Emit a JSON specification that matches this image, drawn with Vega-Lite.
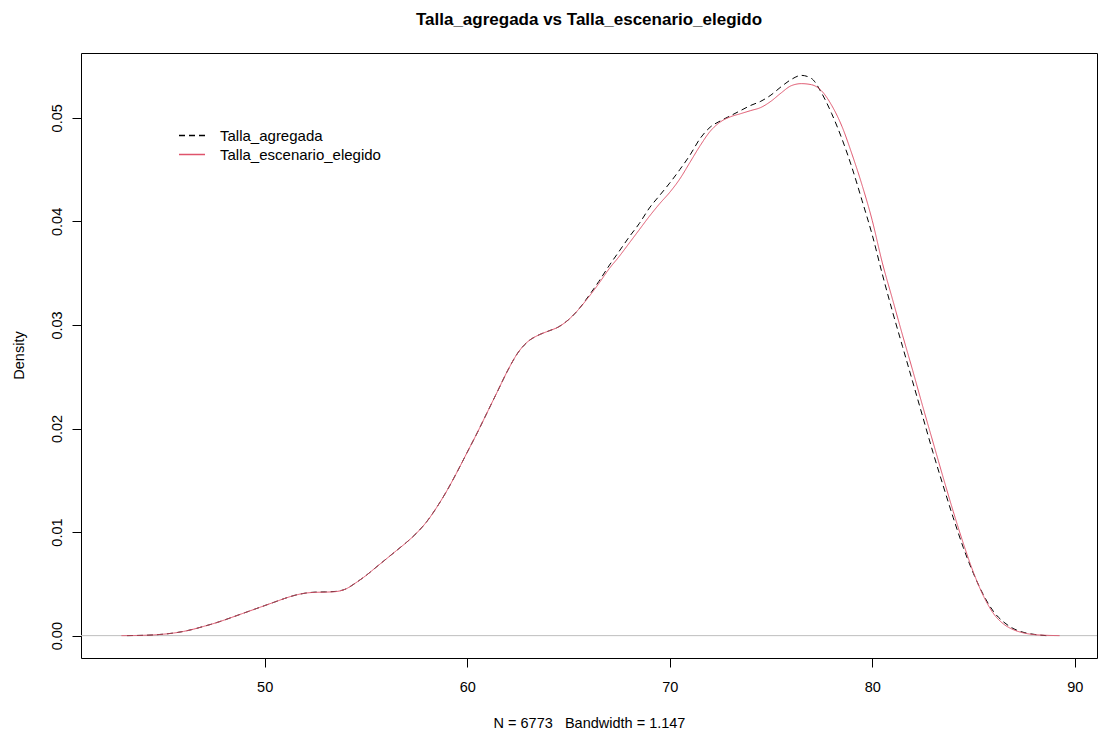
{
  "$schema": "https://vega.github.io/schema/vega-lite/v6.json",
  "autosize": {"type": "none"},
  "width": 1016,
  "height": 605,
  "padding": {"left": 81, "top": 53, "right": 2, "bottom": 78},
  "background": "white",
  "title": {
    "text": "Talla_agregada vs Talla_escenario_elegido",
    "anchor": "middle",
    "frame": "group",
    "font": "Liberation Sans",
    "fontSize": 17,
    "fontWeight": "bold",
    "color": "#000000",
    "baseline": "alphabetic",
    "offset": 11
  },
  "config": {
    "view": {"stroke": "#000000", "strokeWidth": 1},
    "font": "Liberation Sans",
    "axis": {"grid": false, "domain": false, "tickColor": "#000000", "tickSize": 9, "labelColor": "#000000", "labelFont": "Liberation Sans", "labelFontSize": 14.5, "titleFont": "Liberation Sans", "titleFontSize": 14.5, "titleFontWeight": "normal", "titleColor": "#000000"}
  },
  "datasets": {
    "dens": [
      {"x": 43.2, "d": 0, "s": "Talla_agregada"},
      {"x": 43.5, "d": 0.00001, "s": "Talla_agregada"},
      {"x": 44, "d": 0.00003, "s": "Talla_agregada"},
      {"x": 44.5, "d": 0.00007, "s": "Talla_agregada"},
      {"x": 45, "d": 0.00014, "s": "Talla_agregada"},
      {"x": 45.5, "d": 0.00025, "s": "Talla_agregada"},
      {"x": 46, "d": 0.00041, "s": "Talla_agregada"},
      {"x": 46.5, "d": 0.00063, "s": "Talla_agregada"},
      {"x": 47, "d": 0.0009, "s": "Talla_agregada"},
      {"x": 47.5, "d": 0.00118, "s": "Talla_agregada"},
      {"x": 48, "d": 0.0015, "s": "Talla_agregada"},
      {"x": 48.5, "d": 0.00185, "s": "Talla_agregada"},
      {"x": 49, "d": 0.0022, "s": "Talla_agregada"},
      {"x": 49.5, "d": 0.00255, "s": "Talla_agregada"},
      {"x": 50, "d": 0.0029, "s": "Talla_agregada"},
      {"x": 50.5, "d": 0.00325, "s": "Talla_agregada"},
      {"x": 51, "d": 0.0036, "s": "Talla_agregada"},
      {"x": 51.5, "d": 0.0039, "s": "Talla_agregada"},
      {"x": 52, "d": 0.0041, "s": "Talla_agregada"},
      {"x": 52.5, "d": 0.0042, "s": "Talla_agregada"},
      {"x": 53, "d": 0.00422, "s": "Talla_agregada"},
      {"x": 53.5, "d": 0.00427, "s": "Talla_agregada"},
      {"x": 54, "d": 0.0045, "s": "Talla_agregada"},
      {"x": 54.5, "d": 0.0051, "s": "Talla_agregada"},
      {"x": 55, "d": 0.0058, "s": "Talla_agregada"},
      {"x": 55.5, "d": 0.0066, "s": "Talla_agregada"},
      {"x": 56, "d": 0.0074, "s": "Talla_agregada"},
      {"x": 56.5, "d": 0.0082, "s": "Talla_agregada"},
      {"x": 57, "d": 0.009, "s": "Talla_agregada"},
      {"x": 57.5, "d": 0.0099, "s": "Talla_agregada"},
      {"x": 58, "d": 0.011, "s": "Talla_agregada"},
      {"x": 58.5, "d": 0.0124, "s": "Talla_agregada"},
      {"x": 59, "d": 0.014, "s": "Talla_agregada"},
      {"x": 59.5, "d": 0.0158, "s": "Talla_agregada"},
      {"x": 60, "d": 0.0177, "s": "Talla_agregada"},
      {"x": 60.5, "d": 0.0196, "s": "Talla_agregada"},
      {"x": 61, "d": 0.0216, "s": "Talla_agregada"},
      {"x": 61.5, "d": 0.0236, "s": "Talla_agregada"},
      {"x": 62, "d": 0.0256, "s": "Talla_agregada"},
      {"x": 62.5, "d": 0.0273, "s": "Talla_agregada"},
      {"x": 63, "d": 0.0284, "s": "Talla_agregada"},
      {"x": 63.5, "d": 0.029, "s": "Talla_agregada"},
      {"x": 64, "d": 0.0294, "s": "Talla_agregada"},
      {"x": 64.5, "d": 0.0298, "s": "Talla_agregada"},
      {"x": 65, "d": 0.0305, "s": "Talla_agregada"},
      {"x": 65.5, "d": 0.0315, "s": "Talla_agregada"},
      {"x": 66, "d": 0.0328, "s": "Talla_agregada"},
      {"x": 66.5, "d": 0.0342, "s": "Talla_agregada"},
      {"x": 67, "d": 0.0357, "s": "Talla_agregada"},
      {"x": 67.5, "d": 0.0371, "s": "Talla_agregada"},
      {"x": 68, "d": 0.0385, "s": "Talla_agregada"},
      {"x": 68.5, "d": 0.0398, "s": "Talla_agregada"},
      {"x": 69, "d": 0.0413, "s": "Talla_agregada"},
      {"x": 69.5, "d": 0.0425, "s": "Talla_agregada"},
      {"x": 70, "d": 0.0437, "s": "Talla_agregada"},
      {"x": 70.5, "d": 0.045, "s": "Talla_agregada"},
      {"x": 71, "d": 0.0464, "s": "Talla_agregada"},
      {"x": 71.5, "d": 0.048, "s": "Talla_agregada"},
      {"x": 72, "d": 0.0491, "s": "Talla_agregada"},
      {"x": 72.5, "d": 0.0497, "s": "Talla_agregada"},
      {"x": 73, "d": 0.0502, "s": "Talla_agregada"},
      {"x": 73.5, "d": 0.0507, "s": "Talla_agregada"},
      {"x": 74, "d": 0.0512, "s": "Talla_agregada"},
      {"x": 74.5, "d": 0.0516, "s": "Talla_agregada"},
      {"x": 75, "d": 0.0522, "s": "Talla_agregada"},
      {"x": 75.5, "d": 0.053, "s": "Talla_agregada"},
      {"x": 76, "d": 0.0537, "s": "Talla_agregada"},
      {"x": 76.5, "d": 0.0541, "s": "Talla_agregada"},
      {"x": 77, "d": 0.0538, "s": "Talla_agregada"},
      {"x": 77.5, "d": 0.0524, "s": "Talla_agregada"},
      {"x": 78, "d": 0.0504, "s": "Talla_agregada"},
      {"x": 78.5, "d": 0.048, "s": "Talla_agregada"},
      {"x": 79, "d": 0.0452, "s": "Talla_agregada"},
      {"x": 79.5, "d": 0.042, "s": "Talla_agregada"},
      {"x": 80, "d": 0.0387, "s": "Talla_agregada"},
      {"x": 80.5, "d": 0.0349, "s": "Talla_agregada"},
      {"x": 81, "d": 0.0313, "s": "Talla_agregada"},
      {"x": 81.5, "d": 0.0279, "s": "Talla_agregada"},
      {"x": 82, "d": 0.0245, "s": "Talla_agregada"},
      {"x": 82.5, "d": 0.0211, "s": "Talla_agregada"},
      {"x": 83, "d": 0.0177, "s": "Talla_agregada"},
      {"x": 83.5, "d": 0.0145, "s": "Talla_agregada"},
      {"x": 84, "d": 0.0114, "s": "Talla_agregada"},
      {"x": 84.5, "d": 0.0085, "s": "Talla_agregada"},
      {"x": 85, "d": 0.006, "s": "Talla_agregada"},
      {"x": 85.5, "d": 0.0039, "s": "Talla_agregada"},
      {"x": 86, "d": 0.0023, "s": "Talla_agregada"},
      {"x": 86.5, "d": 0.0013, "s": "Talla_agregada"},
      {"x": 87, "d": 0.00065, "s": "Talla_agregada"},
      {"x": 87.5, "d": 0.0003, "s": "Talla_agregada"},
      {"x": 88, "d": 0.00012, "s": "Talla_agregada"},
      {"x": 88.6, "d": 0, "s": "Talla_agregada"},
      {"x": 42.93, "d": 0, "s": "Talla_escenario_elegido"},
      {"x": 43.5, "d": 0.00001, "s": "Talla_escenario_elegido"},
      {"x": 44, "d": 0.00003, "s": "Talla_escenario_elegido"},
      {"x": 44.5, "d": 0.00007, "s": "Talla_escenario_elegido"},
      {"x": 45, "d": 0.00014, "s": "Talla_escenario_elegido"},
      {"x": 45.5, "d": 0.00025, "s": "Talla_escenario_elegido"},
      {"x": 46, "d": 0.00041, "s": "Talla_escenario_elegido"},
      {"x": 46.5, "d": 0.00063, "s": "Talla_escenario_elegido"},
      {"x": 47, "d": 0.0009, "s": "Talla_escenario_elegido"},
      {"x": 47.5, "d": 0.00118, "s": "Talla_escenario_elegido"},
      {"x": 48, "d": 0.0015, "s": "Talla_escenario_elegido"},
      {"x": 48.5, "d": 0.00185, "s": "Talla_escenario_elegido"},
      {"x": 49, "d": 0.0022, "s": "Talla_escenario_elegido"},
      {"x": 49.5, "d": 0.00255, "s": "Talla_escenario_elegido"},
      {"x": 50, "d": 0.0029, "s": "Talla_escenario_elegido"},
      {"x": 50.5, "d": 0.00325, "s": "Talla_escenario_elegido"},
      {"x": 51, "d": 0.0036, "s": "Talla_escenario_elegido"},
      {"x": 51.5, "d": 0.0039, "s": "Talla_escenario_elegido"},
      {"x": 52, "d": 0.0041, "s": "Talla_escenario_elegido"},
      {"x": 52.5, "d": 0.00418, "s": "Talla_escenario_elegido"},
      {"x": 53, "d": 0.0042, "s": "Talla_escenario_elegido"},
      {"x": 53.5, "d": 0.00425, "s": "Talla_escenario_elegido"},
      {"x": 54, "d": 0.0045, "s": "Talla_escenario_elegido"},
      {"x": 54.5, "d": 0.0051, "s": "Talla_escenario_elegido"},
      {"x": 55, "d": 0.0058, "s": "Talla_escenario_elegido"},
      {"x": 55.5, "d": 0.0066, "s": "Talla_escenario_elegido"},
      {"x": 56, "d": 0.0074, "s": "Talla_escenario_elegido"},
      {"x": 56.5, "d": 0.0082, "s": "Talla_escenario_elegido"},
      {"x": 57, "d": 0.009, "s": "Talla_escenario_elegido"},
      {"x": 57.5, "d": 0.0099, "s": "Talla_escenario_elegido"},
      {"x": 58, "d": 0.011, "s": "Talla_escenario_elegido"},
      {"x": 58.5, "d": 0.0124, "s": "Talla_escenario_elegido"},
      {"x": 59, "d": 0.014, "s": "Talla_escenario_elegido"},
      {"x": 59.5, "d": 0.0158, "s": "Talla_escenario_elegido"},
      {"x": 60, "d": 0.0177, "s": "Talla_escenario_elegido"},
      {"x": 60.5, "d": 0.0196, "s": "Talla_escenario_elegido"},
      {"x": 61, "d": 0.0216, "s": "Talla_escenario_elegido"},
      {"x": 61.5, "d": 0.0236, "s": "Talla_escenario_elegido"},
      {"x": 62, "d": 0.0256, "s": "Talla_escenario_elegido"},
      {"x": 62.5, "d": 0.0273, "s": "Talla_escenario_elegido"},
      {"x": 63, "d": 0.0284, "s": "Talla_escenario_elegido"},
      {"x": 63.5, "d": 0.029, "s": "Talla_escenario_elegido"},
      {"x": 64, "d": 0.0294, "s": "Talla_escenario_elegido"},
      {"x": 64.5, "d": 0.0298, "s": "Talla_escenario_elegido"},
      {"x": 65, "d": 0.0305, "s": "Talla_escenario_elegido"},
      {"x": 65.5, "d": 0.0315, "s": "Talla_escenario_elegido"},
      {"x": 66, "d": 0.0327, "s": "Talla_escenario_elegido"},
      {"x": 66.5, "d": 0.034, "s": "Talla_escenario_elegido"},
      {"x": 67, "d": 0.0354, "s": "Talla_escenario_elegido"},
      {"x": 67.5, "d": 0.0366, "s": "Talla_escenario_elegido"},
      {"x": 68, "d": 0.0379, "s": "Talla_escenario_elegido"},
      {"x": 68.5, "d": 0.0392, "s": "Talla_escenario_elegido"},
      {"x": 69, "d": 0.0405, "s": "Talla_escenario_elegido"},
      {"x": 69.5, "d": 0.0417, "s": "Talla_escenario_elegido"},
      {"x": 70, "d": 0.0428, "s": "Talla_escenario_elegido"},
      {"x": 70.5, "d": 0.0441, "s": "Talla_escenario_elegido"},
      {"x": 71, "d": 0.0457, "s": "Talla_escenario_elegido"},
      {"x": 71.5, "d": 0.0473, "s": "Talla_escenario_elegido"},
      {"x": 72, "d": 0.0487, "s": "Talla_escenario_elegido"},
      {"x": 72.5, "d": 0.0496, "s": "Talla_escenario_elegido"},
      {"x": 73, "d": 0.0501, "s": "Talla_escenario_elegido"},
      {"x": 73.5, "d": 0.0504, "s": "Talla_escenario_elegido"},
      {"x": 74, "d": 0.0507, "s": "Talla_escenario_elegido"},
      {"x": 74.5, "d": 0.051, "s": "Talla_escenario_elegido"},
      {"x": 75, "d": 0.0516, "s": "Talla_escenario_elegido"},
      {"x": 75.5, "d": 0.0524, "s": "Talla_escenario_elegido"},
      {"x": 76, "d": 0.0531, "s": "Talla_escenario_elegido"},
      {"x": 76.5, "d": 0.0533, "s": "Talla_escenario_elegido"},
      {"x": 77, "d": 0.0532, "s": "Talla_escenario_elegido"},
      {"x": 77.5, "d": 0.0526, "s": "Talla_escenario_elegido"},
      {"x": 78, "d": 0.0512, "s": "Talla_escenario_elegido"},
      {"x": 78.5, "d": 0.0492, "s": "Talla_escenario_elegido"},
      {"x": 79, "d": 0.0465, "s": "Talla_escenario_elegido"},
      {"x": 79.5, "d": 0.0435, "s": "Talla_escenario_elegido"},
      {"x": 80, "d": 0.0401, "s": "Talla_escenario_elegido"},
      {"x": 80.5, "d": 0.036, "s": "Talla_escenario_elegido"},
      {"x": 81, "d": 0.0325, "s": "Talla_escenario_elegido"},
      {"x": 81.5, "d": 0.029, "s": "Talla_escenario_elegido"},
      {"x": 82, "d": 0.0256, "s": "Talla_escenario_elegido"},
      {"x": 82.5, "d": 0.0221, "s": "Talla_escenario_elegido"},
      {"x": 83, "d": 0.0187, "s": "Talla_escenario_elegido"},
      {"x": 83.5, "d": 0.0153, "s": "Talla_escenario_elegido"},
      {"x": 84, "d": 0.012, "s": "Talla_escenario_elegido"},
      {"x": 84.5, "d": 0.0089, "s": "Talla_escenario_elegido"},
      {"x": 85, "d": 0.0061, "s": "Talla_escenario_elegido"},
      {"x": 85.5, "d": 0.0038, "s": "Talla_escenario_elegido"},
      {"x": 86, "d": 0.0021, "s": "Talla_escenario_elegido"},
      {"x": 86.5, "d": 0.0011, "s": "Talla_escenario_elegido"},
      {"x": 87, "d": 0.00055, "s": "Talla_escenario_elegido"},
      {"x": 87.5, "d": 0.00025, "s": "Talla_escenario_elegido"},
      {"x": 88, "d": 0.0001, "s": "Talla_escenario_elegido"},
      {"x": 88.5, "d": 0.00004, "s": "Talla_escenario_elegido"},
      {"x": 89.25, "d": 0, "s": "Talla_escenario_elegido"}
    ]
  },
  "layer": [
    {
      "data": {"values": [{"zero": 0}]},
      "mark": {"type": "rule", "color": "#BEBEBE", "strokeWidth": 1},
      "encoding": {
        "y": {
          "field": "zero", "type": "quantitative",
          "scale": {"domain": [-0.00216, 0.05626], "nice": false, "zero": false},
          "axis": {"values": [0, 0.01, 0.02, 0.03, 0.04, 0.05], "format": ".2f", "labelAngle": 270, "labelAlign": "center", "labelBaseline": "alphabetic", "labelPadding": 11, "title": "Density", "titleAngle": 270, "titleAlign": "center", "titleBaseline": "alphabetic", "titleX": -58, "titleY": 302}
        }
      }
    },
    {
      "data": {"name": "dens"},
      "mark": {"type": "line", "strokeWidth": 1, "interpolate": "monotone"},
      "encoding": {
        "x": {
          "field": "x", "type": "quantitative",
          "scale": {"domain": [40.93, 91.1], "nice": false, "zero": false},
          "axis": {"values": [50, 60, 70, 80, 90], "labelBaseline": "alphabetic", "labelPadding": 24, "title": "N = 6773\u00a0\u00a0\u00a0Bandwidth = 1.147", "titleBaseline": "alphabetic", "titleX": 508, "titleY": 69, "titleAnchor": "middle", "titleAlign": "center"}
        },
        "y": {
          "field": "d", "type": "quantitative",
          "scale": {"domain": [-0.00216, 0.05626], "nice": false, "zero": false},
          "axis": {"values": [0, 0.01, 0.02, 0.03, 0.04, 0.05], "format": ".2f", "labelAngle": 270, "labelAlign": "center", "labelBaseline": "alphabetic", "labelPadding": 11, "title": "Density", "titleAngle": 270, "titleAlign": "center", "titleBaseline": "alphabetic", "titleX": -58, "titleY": 302}
        },
        "color": {
          "field": "s", "type": "nominal",
          "scale": {"domain": ["Talla_agregada", "Talla_escenario_elegido"], "range": ["#000000", "#DF536B"]},
          "legend": {"orient": "none", "legendX": 103.5, "legendY": 75, "title": null, "symbolType": "M-2,0H2", "symbolSize": 169, "symbolStrokeWidth": 1.3, "labelOffset": 20.5, "labelFontSize": 15, "labelFont": "Liberation Sans", "labelColor": "#000000", "labelLimit": 0, "rowPadding": 3, "padding": 0}
        },
        "strokeDash": {
          "field": "s", "type": "nominal",
          "scale": {"domain": ["Talla_agregada", "Talla_escenario_elegido"], "range": [[6, 4], [1, 0]]},
          "legend": {"orient": "none", "legendX": 103.5, "legendY": 75, "title": null, "symbolType": "M-2,0H2", "symbolSize": 169, "symbolStrokeWidth": 1.3, "labelOffset": 20.5, "labelFontSize": 15, "labelFont": "Liberation Sans", "labelColor": "#000000", "labelLimit": 0, "rowPadding": 3, "padding": 0}
        }
      }
    }
  ]
}
